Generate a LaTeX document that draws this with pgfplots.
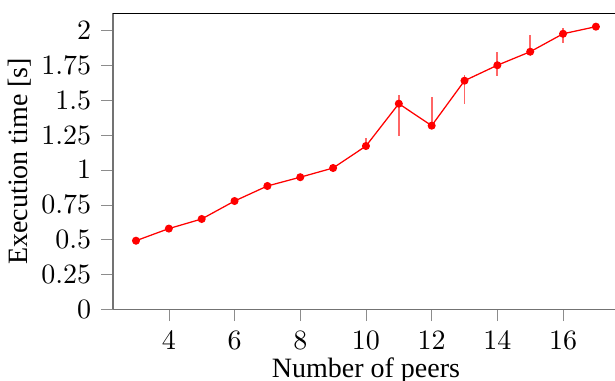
\documentclass[border=0pt]{standalone}
\usepackage{pgfplots}
\pgfplotsset{compat=1.18}
\usepackage{pgfplotstable}
\usepackage{fontspec}
\setmainfont{Liberation Serif}
\usetikzlibrary{calc}
\pgfplotstableread{
x y ep em
3 0.492 0 0
4 0.579 0 0
5 0.648 0 0
6 0.777 0 0
7 0.885 0 0
8 0.948 0 0
9 1.014 0 0
10 1.172 0.056 0.01
11 1.476 0.062 0.230
12 1.318 0.206 0.01
13 1.641 0.039 0.165
14 1.752 0.097 0.077
15 1.849 0.122 0.024
16 1.978 0.044 0.068
17 2.029 0.005 0.024
}\datatable
\begin{document}
\begin{tikzpicture}
\begin{axis}[
  scale only axis,
  width=180.7pt, height=105.7pt,
  xmin=2.3, xmax=17.7, ymin=0, ymax=2.125,
  xtick={4,6,...,16},
  ytick={0,0.25,0.5,0.75,1,1.25,1.5,1.75,2},
  tick align=outside,
  axis x line*=bottom, axis y line*=left,
  axis line style={black!55},
  major tick style={black!45},
  xlabel={Number of peers},
  ylabel={Execution time [s]},
  xlabel shift=-3.8pt,
  ylabel shift=-3.2pt,
  clip=false,
]
\addplot[red, mark=*, mark size=1.2pt, line width=0.45pt,
  error bars/.cd, y dir=both, y explicit, error mark=none,
  error bar style={red, opacity=0.6, line width=0.7pt}]
  table[x=x, y=y, y error plus=ep, y error minus=em] {\datatable};
\draw[black, line width=0.5pt] (rel axis cs:0,1) -- (rel axis cs:1,1);
\end{axis}
\pgfresetboundingbox
\path ($(current axis.south west)+(-40.36pt,-25.6pt)$) rectangle ($(current axis.south west)+(179.3pt,110.45pt)$);
\end{tikzpicture}
\end{document}
